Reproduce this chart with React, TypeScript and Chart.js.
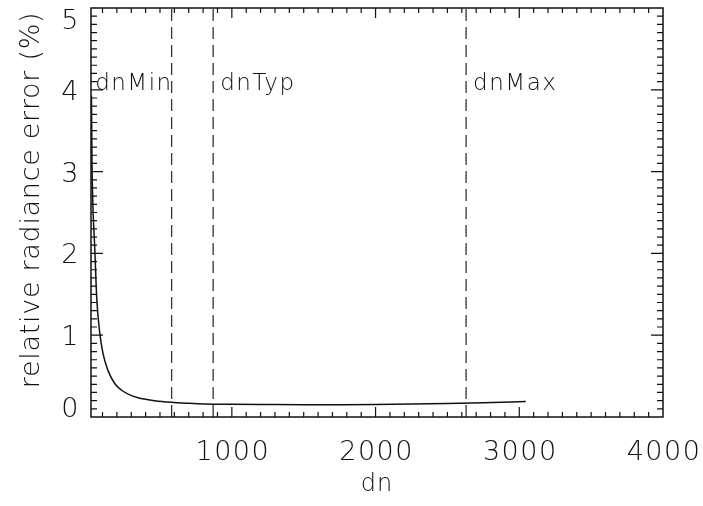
import React, { useEffect, useRef } from "react";
import { Chart, registerables } from "chart.js";

Chart.register(...registerables);

// ---- data ----
const DN = [23, 27, 35, 46, 60, 80, 103, 138, 185, 231, 290, 347, 463, 579, 700, 811, 1000, 1250, 1500, 1750, 2000, 2250, 2500, 2750, 3045];
const ERR = [3.93, 3.1, 2.5, 2.07, 1.45, 1.04, 0.78, 0.57, 0.41, 0.33, 0.27, 0.235, 0.2, 0.18, 0.168, 0.16, 0.155, 0.152, 0.15, 0.151, 0.153, 0.158, 0.165, 0.175, 0.19];

const MARKER_NAMES = ["dnMin", "dnTyp", "dnMax"];
const MARKER_DN = [581, 870, 2630];
const MARKER_TEXT_Y = 4.0;

const X_MIN = 20;
const X_MAX = 4000;
const Y_MIN = 0;
const Y_MAX = 5;
const X_LABELS = [1000, 2000, 3000, 4000];
const Y_LABELS = [0, 1, 2, 3, 4, 5];
const X_TITLE = "dn";
const Y_TITLE = "relative radiance error (%)";

const FONT = '"DejaVu Sans", "Liberation Sans", sans-serif';
const INK = "#111";

const idlAxes = {
  id: "idlAxes",
  afterDraw(chart: any) {
    const { ctx, chartArea: a } = chart;
    const xs = chart.scales.x;
    const ys = chart.scales.y;
    ctx.save();
    ctx.strokeStyle = INK;
    ctx.fillStyle = INK;
    ctx.lineWidth = 1.5;
    ctx.strokeRect(a.left, a.top, a.right - a.left, a.bottom - a.top);

    ctx.lineWidth = 1.2;
    ctx.beginPath();
    for (let v = 100; v < X_MAX; v += 100) {
      if (v <= X_MIN) continue;
      const px = xs.getPixelForValue(v);
      const len = v % 1000 === 0 ? 10 : 5;
      ctx.moveTo(px, a.bottom);
      ctx.lineTo(px, a.bottom - len);
      ctx.moveTo(px, a.top);
      ctx.lineTo(px, a.top + len);
    }
    for (let i = 1; i < 50; i++) {
      const py = ys.getPixelForValue(i / 10);
      const len = i % 10 === 0 ? 12 : 6;
      ctx.moveTo(a.left, py);
      ctx.lineTo(a.left + len, py);
      ctx.moveTo(a.right, py);
      ctx.lineTo(a.right - len, py);
    }
    ctx.stroke();

    const setSpacing = (s: string) => {
      try {
        (ctx as any).letterSpacing = s;
      } catch (e) {}
    };

    // tick labels
    ctx.font = `200 27px ${FONT}`;
    setSpacing("1.5px");
    ctx.textAlign = "center";
    ctx.textBaseline = "alphabetic";
    X_LABELS.forEach((v) => {
      ctx.fillText(String(v), xs.getPixelForValue(v) + 1, a.bottom + 43);
    });
    ctx.textAlign = "right";
    Y_LABELS.forEach((v) => {
      const py = ys.getPixelForValue(v);
      let base = py + 10;
      if (v === Y_MIN) base = a.bottom;
      if (v === Y_MAX) base = a.top + 21;
      ctx.fillText(String(v), a.left - 11, base);
    });

    // axis titles
    ctx.font = `200 24px ${FONT}`;
    setSpacing("1px");
    ctx.textAlign = "center";
    ctx.fillText(X_TITLE, (a.left + a.right) / 2, 491);
    ctx.save();
    ctx.translate(39, 200);
    ctx.rotate(-Math.PI / 2);
    ctx.font = `200 27px ${FONT}`;
    setSpacing("0.7px");
    ctx.textAlign = "center";
    ctx.fillText(Y_TITLE, 0, 0);
    ctx.restore();

    // marker labels
    ctx.font = `200 23px ${FONT}`;
    setSpacing("1.5px");
    const ty = ys.getPixelForValue(MARKER_TEXT_Y);
    MARKER_NAMES.forEach((name, i) => {
      const px = xs.getPixelForValue(MARKER_DN[i]);
      if (i === 0) {
        ctx.textAlign = "right";
        ctx.fillText(name, px + 1, ty);
      } else {
        ctx.textAlign = "left";
        ctx.fillText(name, px + 7, ty);
      }
    });
    setSpacing("0px");
    ctx.restore();
  },
};

export default function App() {
  const ref = useRef<HTMLCanvasElement>(null);
  useEffect(() => {
    if (!ref.current) return;
    const curve = DN.map((d, i) => ({ x: d, y: ERR[i] }));
    const markers = MARKER_DN.map((d) => ({
      data: [
        { x: d, y: Y_MIN },
        { x: d, y: Y_MAX },
      ],
      borderColor: "#333",
      borderWidth: 1.3,
      borderDash: [12, 6],
      pointRadius: 0,
      showLine: true,
      fill: false,
    }));
    const chart = new Chart(ref.current, {
      type: "scatter",
      data: {
        datasets: [
          {
            data: curve,
            borderColor: INK,
            borderWidth: 1.5,
            pointRadius: 0,
            showLine: true,
            fill: false,
            cubicInterpolationMode: "monotone",
          } as any,
          ...(markers as any[]),
        ],
      },
      options: {
        animation: false,
        responsive: false,
        events: [],
        layout: { padding: { left: 91, right: 40, top: 8, bottom: 89 } },
        plugins: { legend: { display: false }, tooltip: { enabled: false } },
        scales: {
          x: { type: "linear", min: X_MIN, max: X_MAX, display: false },
          y: { type: "linear", min: Y_MIN, max: Y_MAX, display: false },
        },
      },
      plugins: [idlAxes],
    });
    return () => chart.destroy();
  }, []);
  return (
    <div style={{ position: "absolute", left: 0, top: 0, width: 703, height: 506, background: "#fff" }}>
      <canvas ref={ref} width={703} height={506} style={{ display: "block" }} />
    </div>
  );
}
